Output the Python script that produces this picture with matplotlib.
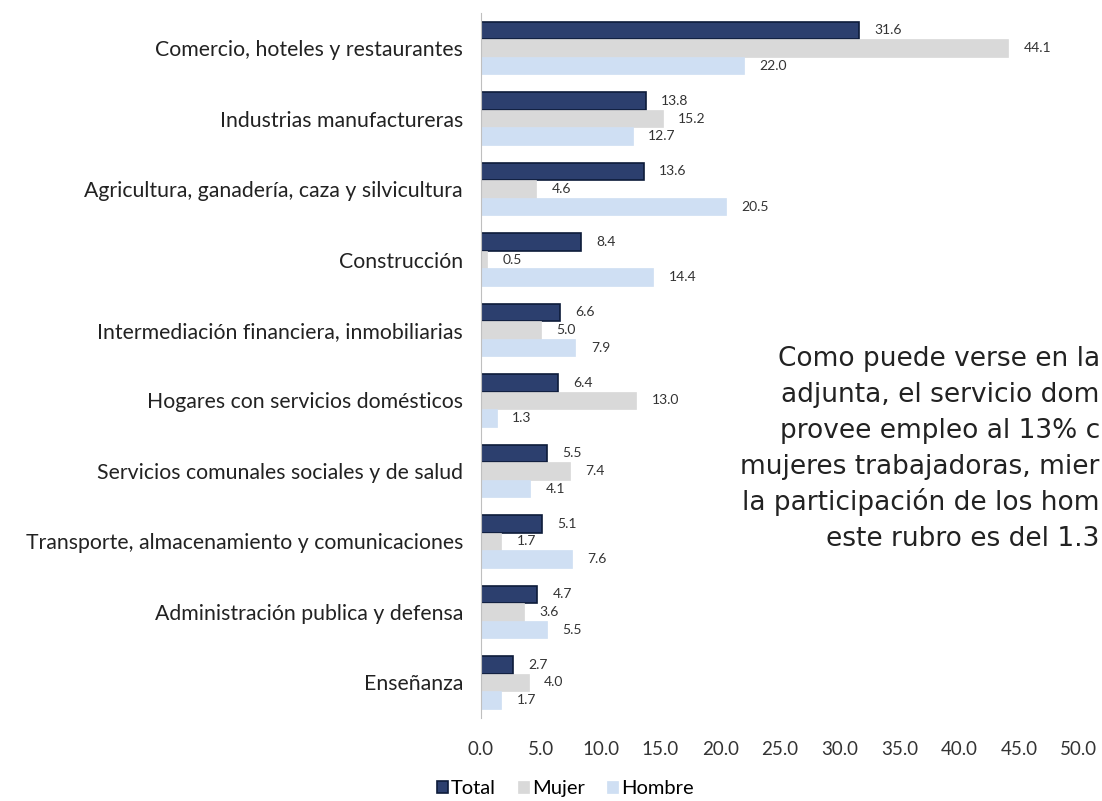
import numpy as np
import matplotlib.pyplot as plt

plt.rcParams['font.family'] = ['Lato', 'DejaVu Sans']

categorias = ['Comercio, hoteles y restaurantes',
              'Industrias manufactureras',
              'Agricultura, ganadería, caza y silvicultura',
              'Construcción',
              'Intermediación financiera, inmobiliarias',
              'Hogares con servicios domésticos',
              'Servicios comunales sociales y de salud',
              'Transporte, almacenamiento y comunicaciones',
              'Administración publica y defensa',
              'Enseñanza']
total = [31.6, 13.8, 13.6, 8.4, 6.6, 6.4, 5.5, 5.1, 4.7, 2.7]
mujer = [44.1, 15.2, 4.6, 0.5, 5.0, 13.0, 7.4, 1.7, 3.6, 4.0]
hombre = [22.0, 12.7, 20.5, 14.4, 7.9, 1.3, 4.1, 7.6, 5.5, 1.7]
ticks = [0, 5, 10, 15, 20, 25, 30, 35, 40, 45, 50]

lineas = ["Como puede verse en la",
          "adjunta, el servicio dom",
          "provee empleo al 13% c",
          "mujeres trabajadoras, mier",
          "la participación de los hom",
          "este rubro es del 1.3"]

fig = plt.figure(figsize=(11.02, 8.01), dpi=100)
ax = fig.add_axes([0.4365, 0.104, 0.5425, 0.88])

y = np.arange(len(categorias))
h = 0.25
series = [(total, '#2c3f6e', '#0d1b3a', 'Total', -h),
          (mujer, '#d9d9d9', '#d9d9d9', 'Mujer', 0),
          (hombre, '#cfdff3', '#cfdff3', 'Hombre', h)]
for vals, col, ec, nom, off in series:
    bars = ax.barh(y + off, vals, height=h, color=col, edgecolor=ec,
                   linewidth=1.2 if nom == 'Total' else 0.5, label=nom)
    for b, v in zip(bars, vals):
        ax.annotate(f'{v:.1f}', (v, b.get_y() + b.get_height() / 2),
                    xytext=(11, 0), textcoords='offset points',
                    va='center', ha='left', fontsize=10, color='#333333')

ax.set_ylim(len(categorias) - 0.5, -0.5)
ax.set_xlim(0, 50)
ax.set_yticks(y)
ax.set_yticklabels(categorias, fontsize=15.3, color='#222222')
ax.set_xticks(ticks)
ax.set_xticklabels([f'{t:.1f}' for t in ticks], fontsize=13.5, color='#333333')
ax.tick_params(length=0)
ax.tick_params(axis='x', pad=17)
ax.tick_params(axis='y', pad=13)
for s in ['top', 'right', 'bottom']:
    ax.spines[s].set_visible(False)
ax.spines['left'].set_color('#bfbfbf')

fig.legend(loc='lower center', bbox_to_anchor=(0.513, -0.018), ncol=3,
           frameon=False, fontsize=14.5, handlelength=0.55, handleheight=0.55,
           handletextpad=0.15, columnspacing=1.1)

# texto superpuesto, recortado por el borde derecho
for i, linea in enumerate(lineas):
    fig.text(0.998, 1 - (366 + 36 * i) / 801, linea, ha='right', va='baseline',
             fontsize=19, family=['DejaVu Sans'], color='#222222')

fig.savefig('out.png', dpi=100)
